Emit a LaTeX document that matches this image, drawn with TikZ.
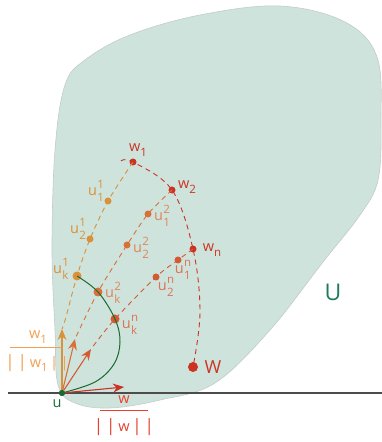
\documentclass[tikz,border=0pt]{standalone}
\usepackage{fontspec}
\setmainfont{Open Sans}
\usetikzlibrary{arrows.meta}
\definecolor{blob}{HTML}{CFE3DD}
\definecolor{blobedge}{HTML}{C2CCC8}
\definecolor{ca}{HTML}{D9913A}
\definecolor{cb}{HTML}{D8703A}
\definecolor{cc}{HTML}{D45A32}
\definecolor{cred}{HTML}{CC3322}
\definecolor{cgreen}{HTML}{1A6A30}
\definecolor{cU}{HTML}{1B7A5A}
\definecolor{fo}{HTML}{F0A050}
\definecolor{fr}{HTML}{E8402A}
\newcommand\ssub[3]{#1\hspace{0.5pt}\begin{tabular}[c]{@{}l@{}}\fontsize{11.5}{10}\selectfont #2\\[-0.5pt]\fontsize{11.5}{10}\selectfont #3\end{tabular}}
\newcommand\wsub[2]{#1\raisebox{-4.5pt}{\fontsize{11.5}{11}\selectfont #2}}
\tikzset{
  lab/.style={font=\fontsize{14.5}{14}\selectfont, inner sep=1pt},
  dotA/.style={circle, fill=ca, inner sep=0pt, minimum size=7pt},
  dotB/.style={circle, fill=cb, inner sep=0pt, minimum size=7pt},
  dotC/.style={circle, fill=cc, inner sep=0pt, minimum size=7pt},
  dotR/.style={circle, fill=cred, inner sep=0pt, minimum size=7pt},
  dsh/.style={dashed, dash pattern=on 5pt off 4pt, line width=0.9pt},
  arr/.style={-{Stealth[length=11pt,width=9pt]}, line width=1.1pt},
}
\begin{document}
\begin{tikzpicture}[x=1pt,y=1pt]
\useasboundingbox (0,0) rectangle (382,442);
% region U
\draw[fill=blob, draw=blobedge, line width=0.6pt] plot[smooth cycle, tension=0.6] coordinates {
(55,112) (58,57) (75,39) (110,34) (160,42) (215,59) (270,112) (323,180) (360,227) (378,262)
(381,320) (377,385) (345,420) (280,436) (200,427) (130,407) (85,382) (65,357) (55,292) (52,192)};
% axis
\draw[line width=1.2pt, color=black!70] (8,49) -- (382,49);
% points
\node[circle, fill=cgreen, inner sep=0pt, minimum size=6pt] (u) at (62,49) {};
\node[dotR] (w1) at (133,280) {};
\node[dotR] (w2) at (172,252) {};
\node[dotR] (wn) at (193,193) {};
\node[circle, fill=cred, inner sep=0pt, minimum size=10pt] (W) at (193,75) {};
\node[dotA] (u11) at (108,241) {};
\node[dotA] (u21) at (90,203) {};
\node[dotA, minimum size=9pt] (uk1) at (77,166) {};
\node[dotB] (u12) at (148,228) {};
\node[dotB] (u22) at (127,197) {};
\node[dotB, minimum size=9pt] (uk2) at (98,150) {};
\node[dotC] (u1n) at (178,182) {};
\node[dotC] (u2n) at (156,165) {};
\node[dotC, minimum size=9pt] (ukn) at (115,123) {};
\coordinate (a1) at (62,113);
\coordinate (a2) at (75,103);
\coordinate (a3) at (91,93);
\coordinate (aw) at (124,55);
\coordinate (s0) at (121,281);
% dashed curves
\draw[dsh, ca] plot[smooth, tension=0.5] coordinates {(w1) (u11) (u21) (uk1) (66,125) (a1)};
\draw[dsh, cb] plot[smooth, tension=0.5] coordinates {(w2) (u12) (u22) (uk2) (a2)};
\draw[dsh, cc] plot[smooth, tension=0.5] coordinates {(wn) (u1n) (u2n) (ukn) (a3)};
\draw[dsh, cred] plot[smooth, tension=0.6] coordinates {(s0) (w1) (w2) (wn) (200,130) (W)};
% green curve
\draw[cgreen, line width=1pt] plot[smooth, tension=0.6] coordinates {(u) (95,60) (114,78) (120,100) (ukn) (uk2) (uk1)};
% arrows
\draw[arr, ca] (u) -- (a1);
\draw[arr, cb] (u) -- (a2);
\draw[arr, cc] (u) -- (a3);
\draw[arr, cred] (u) -- (aw);
\node[circle, fill=cgreen, inner sep=0pt, minimum size=6pt] at (u) {};
% labels
\node[lab, text=cgreen] (lu) at (57,38) {u};
\node[lab, text=cred] (lw1) at (138,292) {\wsub{w}{1}};
\node[lab, text=cred] (lw2) at (187,255) {\wsub{w}{2}};
\node[lab, text=cred] (lwn) at (212,192) {\wsub{w}{n}};
\node[lab, text=cred, font=\fontsize{18}{18}\selectfont] (lW) at (213,75) {W};
\node[lab, text=ca] (l11) at (96,250) {\ssub{u}{1}{1}};
\node[lab, text=ca] (l21) at (78,212) {\ssub{u}{1}{2}};
\node[lab, text=ca] (lk1) at (61,172) {\ssub{u}{1}{k}};
\node[lab, text=cb!85!white] (l12) at (162,225) {\ssub{u}{2}{1}};
\node[lab, text=cb!85!white] (l22) at (141,193) {\ssub{u}{2}{2}};
\node[lab, text=cb!85!white] (lk2) at (113,148) {\ssub{u}{2}{k}};
\node[lab, text=cc!85!white] (l1n) at (183,172) {\ssub{u}{n}{1}};
\node[lab, text=cc!85!white] (l2n) at (166,155) {\ssub{u}{n}{2}};
\node[lab, text=cc!85!white] (lkn) at (130,117) {\ssub{u}{n}{k}};
\node[lab, text=cU, font=\fontsize{23}{23}\selectfont] (lU) at (333,150) {U};
% fractions
\node[lab, text=fo] (f1n) at (38,105) {\wsub{w}{1}};
\draw[fo, line width=0.8pt] (10,95) -- (62,95);
\node[lab, text=fo, font=\fontsize{17}{17}\selectfont] (f1d) at (37,79) {|\,|\,\wsub{\fontsize{14.5}{14}\selectfont w}{1}\,|\,|};
\node[lab, text=fr] (fwn) at (124,42) {w};
\draw[fr, line width=0.8pt] (100,32) -- (148,32);
\node[lab, text=fr, font=\fontsize{17}{17}\selectfont] (fwd) at (124,15) {|\,|\,{\fontsize{14.5}{14}\selectfont w}\,|\,|};
\end{tikzpicture}
\end{document}
